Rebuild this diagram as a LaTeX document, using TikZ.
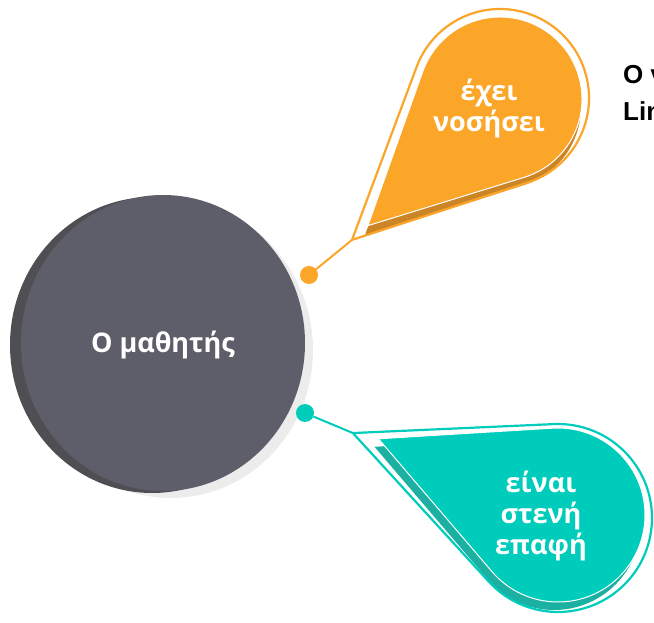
\documentclass[tikz,border=0pt]{standalone}
\usepackage{fontspec}
\setmainfont{Open Sans}
\newfontfamily\notefont{Liberation Sans}
\usetikzlibrary{calc}

\definecolor{orangedrop}{RGB}{251,165,41}
\definecolor{orangedark}{RGB}{204,133,38}
\definecolor{tealdrop}{RGB}{0,204,187}
\definecolor{tealdark}{RGB}{27,176,162}
\definecolor{student}{RGB}{93,94,105}
\definecolor{studentdark}{RGB}{78,78,83}
\definecolor{studentlight}{RGB}{236,236,236}

% teardrop: style, centre, radius, tip angle, tip distance
\newcommand{\drop}[5]{%
  \path[#1] ($(#2)+(#4:#5)$) -- ($(#2)+({#4+acos(#3/#5)}:#3)$)
    arc[start angle={#4+acos(#3/#5)}, delta angle={360-2*acos(#3/#5)}, radius=#3] -- cycle;}

\begin{document}
\begin{tikzpicture}[x=1pt,y=1pt,
    label/.style={text=white, align=center, font=\bfseries\fontsize{27}{31}\selectfont},
    dot/.style={circle, fill=#1, minimum size=18pt, inner sep=0pt}]
  \useasboundingbox (0,0) rectangle (654,622);

  % the student
  \fill[studentlight] (171,272) ellipse (142 and 148);
  \fill[studentdark] (152,277) ellipse (142 and 148);
  \fill[student] (163,279) ellipse (142 and 148);
  \node[label] (student) at (163,277) {Ο μαθητής};

  % orange drop
  \coordinate (orangec) at (500,524);
  \coordinate (orangein) at (500,523);
  \coordinate (orangesh) at (499,515);
  \drop{fill=orangedark}{orangesh}{82}{223.8}{186}
  \drop{fill=orangedrop, draw=white, line width=1pt}{orangein}{82}{223.8}{183}
  \drop{draw=orangedrop, line width=2.2pt}{orangec}{89}{223.8}{205}
  \coordinate (orangetip) at ($(orangec)+(223.8:205)$);
  \node[dot=orangedrop] (orangedot) at (309,347) {};
  \draw[orangedrop, line width=2pt] (orangedot) -- (orangetip);
  \node[label] (orangetext) at (489,513) {έχει\\νοσήσει};

  % teal drop
  \coordinate (tealc) at (558,104);
  \coordinate (tealin) at (558,107);
  \coordinate (tealsh) at (554,99);
  \drop{fill=tealdark}{tealsh}{87}{157}{195}
  \drop{fill=tealdrop, draw=white, line width=1pt}{tealin}{87}{157}{195}
  \drop{draw=tealdrop, line width=2.2pt}{tealc}{94}{157.5}{222}
  \coordinate (tealtip) at ($(tealc)+(157.5:222)$);
  \node[dot=tealdrop] (tealdot) at (305,209) {};
  \draw[tealdrop, line width=2pt] (tealdot) -- (tealtip);
  \node[label] (tealtext) at (541,106) {είναι\\στενή\\επαφή};

  % note cut at the edge
  \node[anchor=north west, align=left, inner sep=0pt,
    font=\notefont\bfseries\fontsize{26}{37}\selectfont] (note) at (623,557) {Ο ν\\Lin};
\end{tikzpicture}
\end{document}
